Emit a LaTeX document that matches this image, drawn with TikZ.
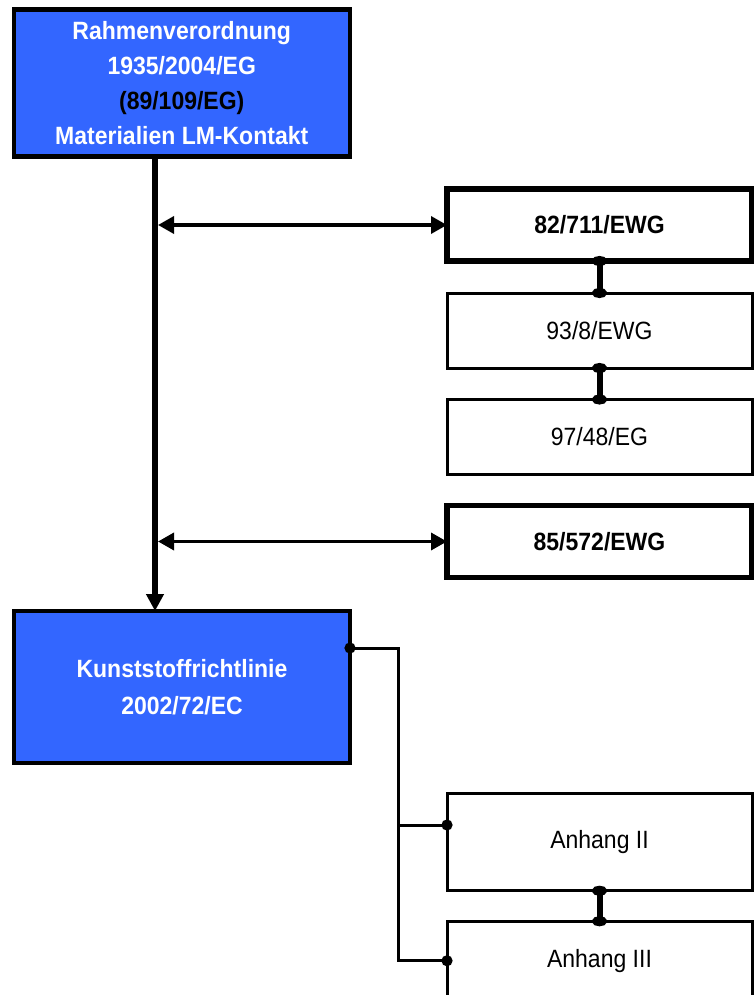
\documentclass[tikz,border=0pt]{standalone}
\usepackage{fontspec}
\setmainfont{Liberation Sans}[FakeStretch=0.92]
\usetikzlibrary{arrows.meta,positioning}
\definecolor{mainblue}{RGB}{51,102,255}

\begin{document}
\begin{tikzpicture}[
    x=1pt, y=-1pt,
    mainblock/.style={rectangle, draw, line width=4.5pt, fill=mainblue, text=white, minimum width=336pt, align=center, outer sep=0pt, font=\fontsize{25}{35}\selectfont\bfseries},
    refblock/.style={rectangle, draw, line width=3pt, minimum width=305pt, minimum height=75pt, outer sep=0pt, font=\fontsize{25}{30}\selectfont},
    boldblock/.style={refblock, line width=5.5pt, minimum height=72pt, font=\fontsize{25}{30}\selectfont\bfseries},
    biarrow/.style={{Triangle[length=16pt,width=17pt]}-{Triangle[length=16pt,width=17pt]}, line width=3.5pt},
    spinearrow/.style={-{Triangle[length=17pt,width=17pt]}, line width=6pt},
    chain/.style={{Ellipse[length=10pt,width=15pt]}-{Ellipse[length=10pt,width=15pt]}, line width=6pt, shorten <=-5pt, shorten >=-5pt},
    link/.style={line width=3pt}
]
\useasboundingbox (0,0) rectangle (754,995);

% Main regulations
\node[mainblock, minimum height=147pt] (rahmen) at (181.75,83) {Rahmenverordnung\\1935/2004/EG\\\textcolor{black}{(89/109/EG)}\\Materialien LM-Kontakt};
\node[mainblock, minimum height=152pt, font=\fontsize{25}{37}\selectfont\bfseries] (kunststoff) at (182,687) {Kunststoffrichtlinie\\2002/72/EC};

% Directives
\node[boldblock] (eg82) at (599.5,225) {82/711/EWG};
\node[refblock, below=32pt of eg82] (eg93) {93/8/EWG};
\node[refblock, below=31.5pt of eg93] (eg97) {97/48/EG};
\node[boldblock] (eg85) at (599.5,541.5) {85/572/EWG};

% Annexes
\node[refblock, minimum height=97.5pt] (anhang2) at (599.5,842) {Anhang II};
\node[refblock, minimum height=79pt, below=30.5pt of anhang2] (anhang3) {Anhang III};

% Spine
\coordinate (spine) at (158,0);
\coordinate (bus) at (398,0);
\draw[spinearrow] ([xshift=-26.75pt]rahmen.south) -- ([xshift=-27pt]kunststoff.north);
\draw[biarrow] (spine |- eg82.west) -- (eg82.west);
\draw[biarrow] (spine |- eg85.west) -- (eg85.west);

% Chains
\draw[chain] (eg82.south) -- (eg93.north);
\draw[chain] (eg93.south) -- (eg97.north);
\draw[chain] (anhang2.south) -- (anhang3.north);

% Annex links
\draw[link, {Circle[length=11pt]}-{Circle[length=11pt]}, shorten <=-5.5pt, shorten >=-5.5pt] ([yshift=39pt]kunststoff.east) -| (bus |- anhang3.west) -- (anhang3.west);
\draw[link, {Circle[length=11pt]}-, shorten <=-5.5pt] ([yshift=17pt]anhang2.west) -- ++(-49,0);

\end{tikzpicture}
\end{document}
